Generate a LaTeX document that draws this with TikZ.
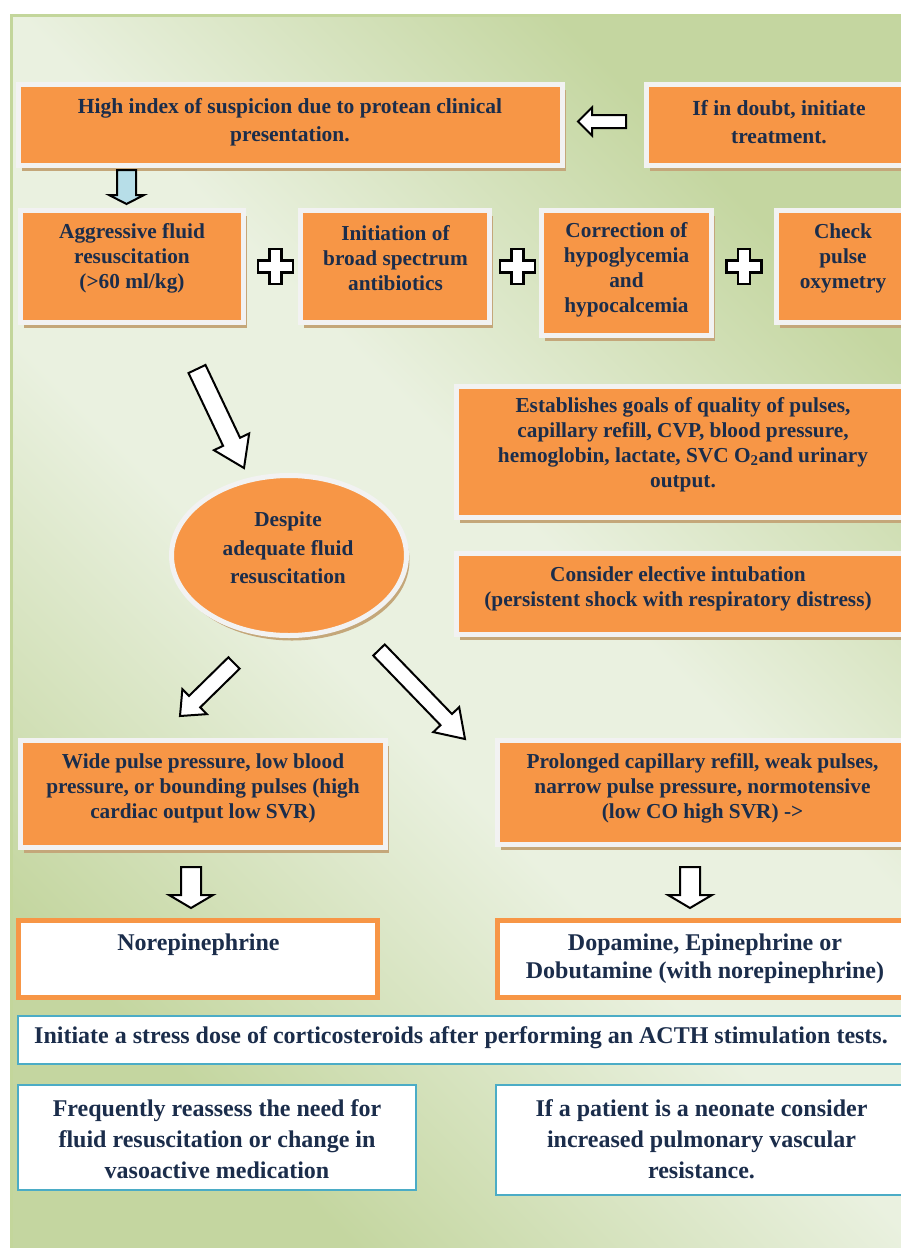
\documentclass[tikz,border=0pt]{standalone}
\usepackage{fontspec}
\setmainfont{Liberation Serif}
\usetikzlibrary{calc,shadows,shapes.geometric}
\definecolor{boxorange}{HTML}{F79646}
\definecolor{boxedge}{HTML}{F2F2F2}
\definecolor{shadowtan}{HTML}{C4A77A}
\definecolor{txtnavy}{HTML}{1B2D4B}
\definecolor{tealedge}{HTML}{4BACC6}
\definecolor{framegreen}{HTML}{C3D69B}
\definecolor{bglight}{HTML}{EAF1E0}
\definecolor{bggreen}{HTML}{C4D6A0}
\definecolor{arrowblue}{HTML}{B7DEE8}
\pgfdeclarehorizontalshading{bgshade}{100bp}{color(0bp)=(bggreen); color(26bp)=(bggreen); color(45bp)=(bglight); color(56bp)=(bglight); color(74bp)=(bggreen); color(100bp)=(bggreen)}
\tikzset{
  box/.style={draw=boxedge, line width=5pt, fill=boxorange,
    drop shadow={shadow xshift=3pt, shadow yshift=-5pt, fill=shadowtan, opacity=1}},
  drugbox/.style={draw=boxorange, line width=5pt, fill=white},
  notebox/.style={draw=tealedge, line width=2.5pt, fill=white},
  txt/.style={text=txtnavy, align=center, inner sep=0pt, font=\bfseries\fontsize{21.3}{25}\selectfont},
  toptxt/.style={txt, font=\bfseries\fontsize{21.5}{28}\selectfont},
  lowtxt/.style={txt, font=\bfseries\fontsize{24}{31}\selectfont},
  blockarr/.style={draw=black, line width=2pt, fill=white, line join=miter},
}
\newcommand{\blockarrow}[6][]{%
  \coordinate (ba-base) at ($(#3)!#6!(#2)$);
  \draw[blockarr,#1] ($(#2)!#4!90:(#3)$) -- ($(ba-base)!#4!90:(#3)$) -- ($(ba-base)!#5!90:(#3)$)
    -- (#3) -- ($(ba-base)!#5!-90:(#3)$) -- ($(ba-base)!#4!-90:(#3)$) -- ($(#2)!#4!-90:(#3)$) -- cycle;}
\newcommand{\plusmark}[1]{%
  \draw[blockarr, line width=2.7pt] (#1) ++(-6,-17.5) -- ++(12,0) -- ++(0,11.5) -- ++(11.5,0) -- ++(0,12) -- ++(-11.5,0)
    -- ++(0,11.5) -- ++(-12,0) -- ++(0,-11.5) -- ++(-11.5,0) -- ++(0,-12) -- ++(11.5,0) -- cycle;}

\begin{document}
\begin{tikzpicture}[x=1pt,y=-1pt]
 \useasboundingbox (0,0) rectangle (901,1248);
 \fill[white] (0,0) rectangle (901,1248);
 \shade[shading=bgshade, shading angle=45] (10,14) rectangle (901,1248);
 \draw[framegreen, line width=3pt] (11.5,1252) -- (11.5,15.5) -- (906,15.5);

 \coordinate (backT)  at (626,121.5);
 \coordinate (backH)  at (578,121.5);
 \coordinate (downT)  at (126.5,170);
 \coordinate (downH)  at (126.5,204);
 \coordinate (diagT)  at (197,369);
 \coordinate (diagH)  at (244,468);
 \coordinate (leftT)  at (234,663);
 \coordinate (leftH)  at (180,716);
 \coordinate (rightT) at (379,650);
 \coordinate (rightH) at (465,739);
 \coordinate (dropLT) at (191,867);
 \coordinate (dropLH) at (191,908);
 \coordinate (dropRT) at (690,867);
 \coordinate (dropRH) at (690,908);
 \coordinate (plusA) at (275.5,266.5);
 \coordinate (plusB) at (517.5,266.5);
 \coordinate (plusC) at (744,266.5);

 \node[box, minimum width=544, minimum height=81] (hi) at (290.5,125) {};
 \node[toptxt] (hitxt) at (290,122) {High index of suspicion due to protean clinical\\presentation.};
 \node[box, minimum width=265, minimum height=81] (doubt) at (779,125) {};
 \node[toptxt] (doubttxt) at (779,122) {If in doubt, initiate\\treatment.};

 \node[box, minimum width=223, minimum height=112] (fluid) at (132,266.5) {};
 \node[txt] (fluidtxt) at (132,258) {Aggressive fluid\\resuscitation\\(>60 ml/kg)};
 \node[box, minimum width=189, minimum height=112] (abx) at (395,266.5) {};
 \node[txt] (abxtxt) at (395.5,258) {Initiation of\\broad spectrum\\antibiotics};
 \node[box, minimum width=170, minimum height=125] (glyc) at (626.5,273) {};
 \node[txt] (glyctxt) at (626.5,269.5) {Correction of\\hypoglycemia\\and\\hypocalcemia};
 \node[box, minimum width=133, minimum height=112] (oxy) at (843,266.5) {};
 \node[txt] (oxytxt) at (843,258) {Check\\pulse\\oxymetry};

 \node[box, minimum width=453, minimum height=131] (goals) at (683,452) {};
 \node[txt] (goalstxt) at (683,445) {Establishes goals of quality of pulses,\\capillary refill, CVP, blood pressure,\\hemoglobin, lactate, SVC O\textsubscript{2}and urinary\\output.};
 \node[box, minimum width=453, minimum height=81] (intub) at (683,594) {};
 \node[txt] (intubtxt) at (678,589) {Consider elective intubation\\(persistent shock with respiratory distress)};

 \node[box, ellipse, minimum width=235, minimum height=160] (despite) at (289,555.5) {};
 \node[txt, font=\bfseries\fontsize{21.3}{28.5}\selectfont] (despitetxt) at (288,548) {Despite\\adequate fluid\\resuscitation};

 \node[box, minimum width=365, minimum height=107] (wide) at (203,794) {};
 \node[txt] (widetxt) at (203,788.5) {Wide pulse pressure, low blood\\pressure, or bounding pulses (high\\cardiac output low SVR)};
 \node[box, minimum width=415, minimum height=104] (prolong) at (705,792.5) {};
 \node[txt] (prolongtxt) at (702.5,788.5) {Prolonged capillary refill, weak pulses,\\narrow pulse pressure, normotensive\\(low CO high SVR) ->};

 \node[drugbox, minimum width=359, minimum height=77] (norepi) at (198,959) {};
 \node[lowtxt] (norepitxt) at (198.5,945) {Norepinephrine};
 \node[drugbox, minimum width=417, minimum height=77] (dopa) at (706,959) {};
 \node[lowtxt, font=\bfseries\fontsize{24}{28}\selectfont] (dopatxt) at (705,959) {Dopamine, Epinephrine or\\Dobutamine (with norepinephrine)};

 \node[notebox, minimum width=886, minimum height=48] (steroid) at (461,1040) {};
 \node[lowtxt] (steroidtxt) at (461,1038) {Initiate a stress dose of corticosteroids after performing an ACTH stimulation tests.};
 \node[notebox, minimum width=398, minimum height=105] (reassess) at (217,1137.5) {};
 \node[lowtxt] (reassesstxt) at (217,1139) {Frequently reassess the need for\\fluid resuscitation or change in\\vasoactive medication};
 \node[notebox, minimum width=410, minimum height=110] (neonate) at (701,1140) {};
 \node[lowtxt] (neonatetxt) at (701.5,1139) {If a patient is a neonate consider\\increased pulmonary vascular\\resistance.};

 \blockarrow{backT}{backH}{6.5pt}{14pt}{14pt}
 \blockarrow[fill=arrowblue]{downT}{downH}{9.5pt}{17.5pt}{9pt}
 \blockarrow{diagT}{diagH}{9.4pt}{19.5pt}{29pt}
 \blockarrow{leftT}{leftH}{8pt}{17.5pt}{20.5pt}
 \blockarrow{rightT}{rightH}{8pt}{18pt}{27pt}
 \blockarrow{dropLT}{dropLH}{10pt}{22pt}{13pt}
 \blockarrow{dropRT}{dropRH}{10pt}{22pt}{13pt}
 \plusmark{plusA}
 \plusmark{plusB}
 \plusmark{plusC}
\end{tikzpicture}
\end{document}
